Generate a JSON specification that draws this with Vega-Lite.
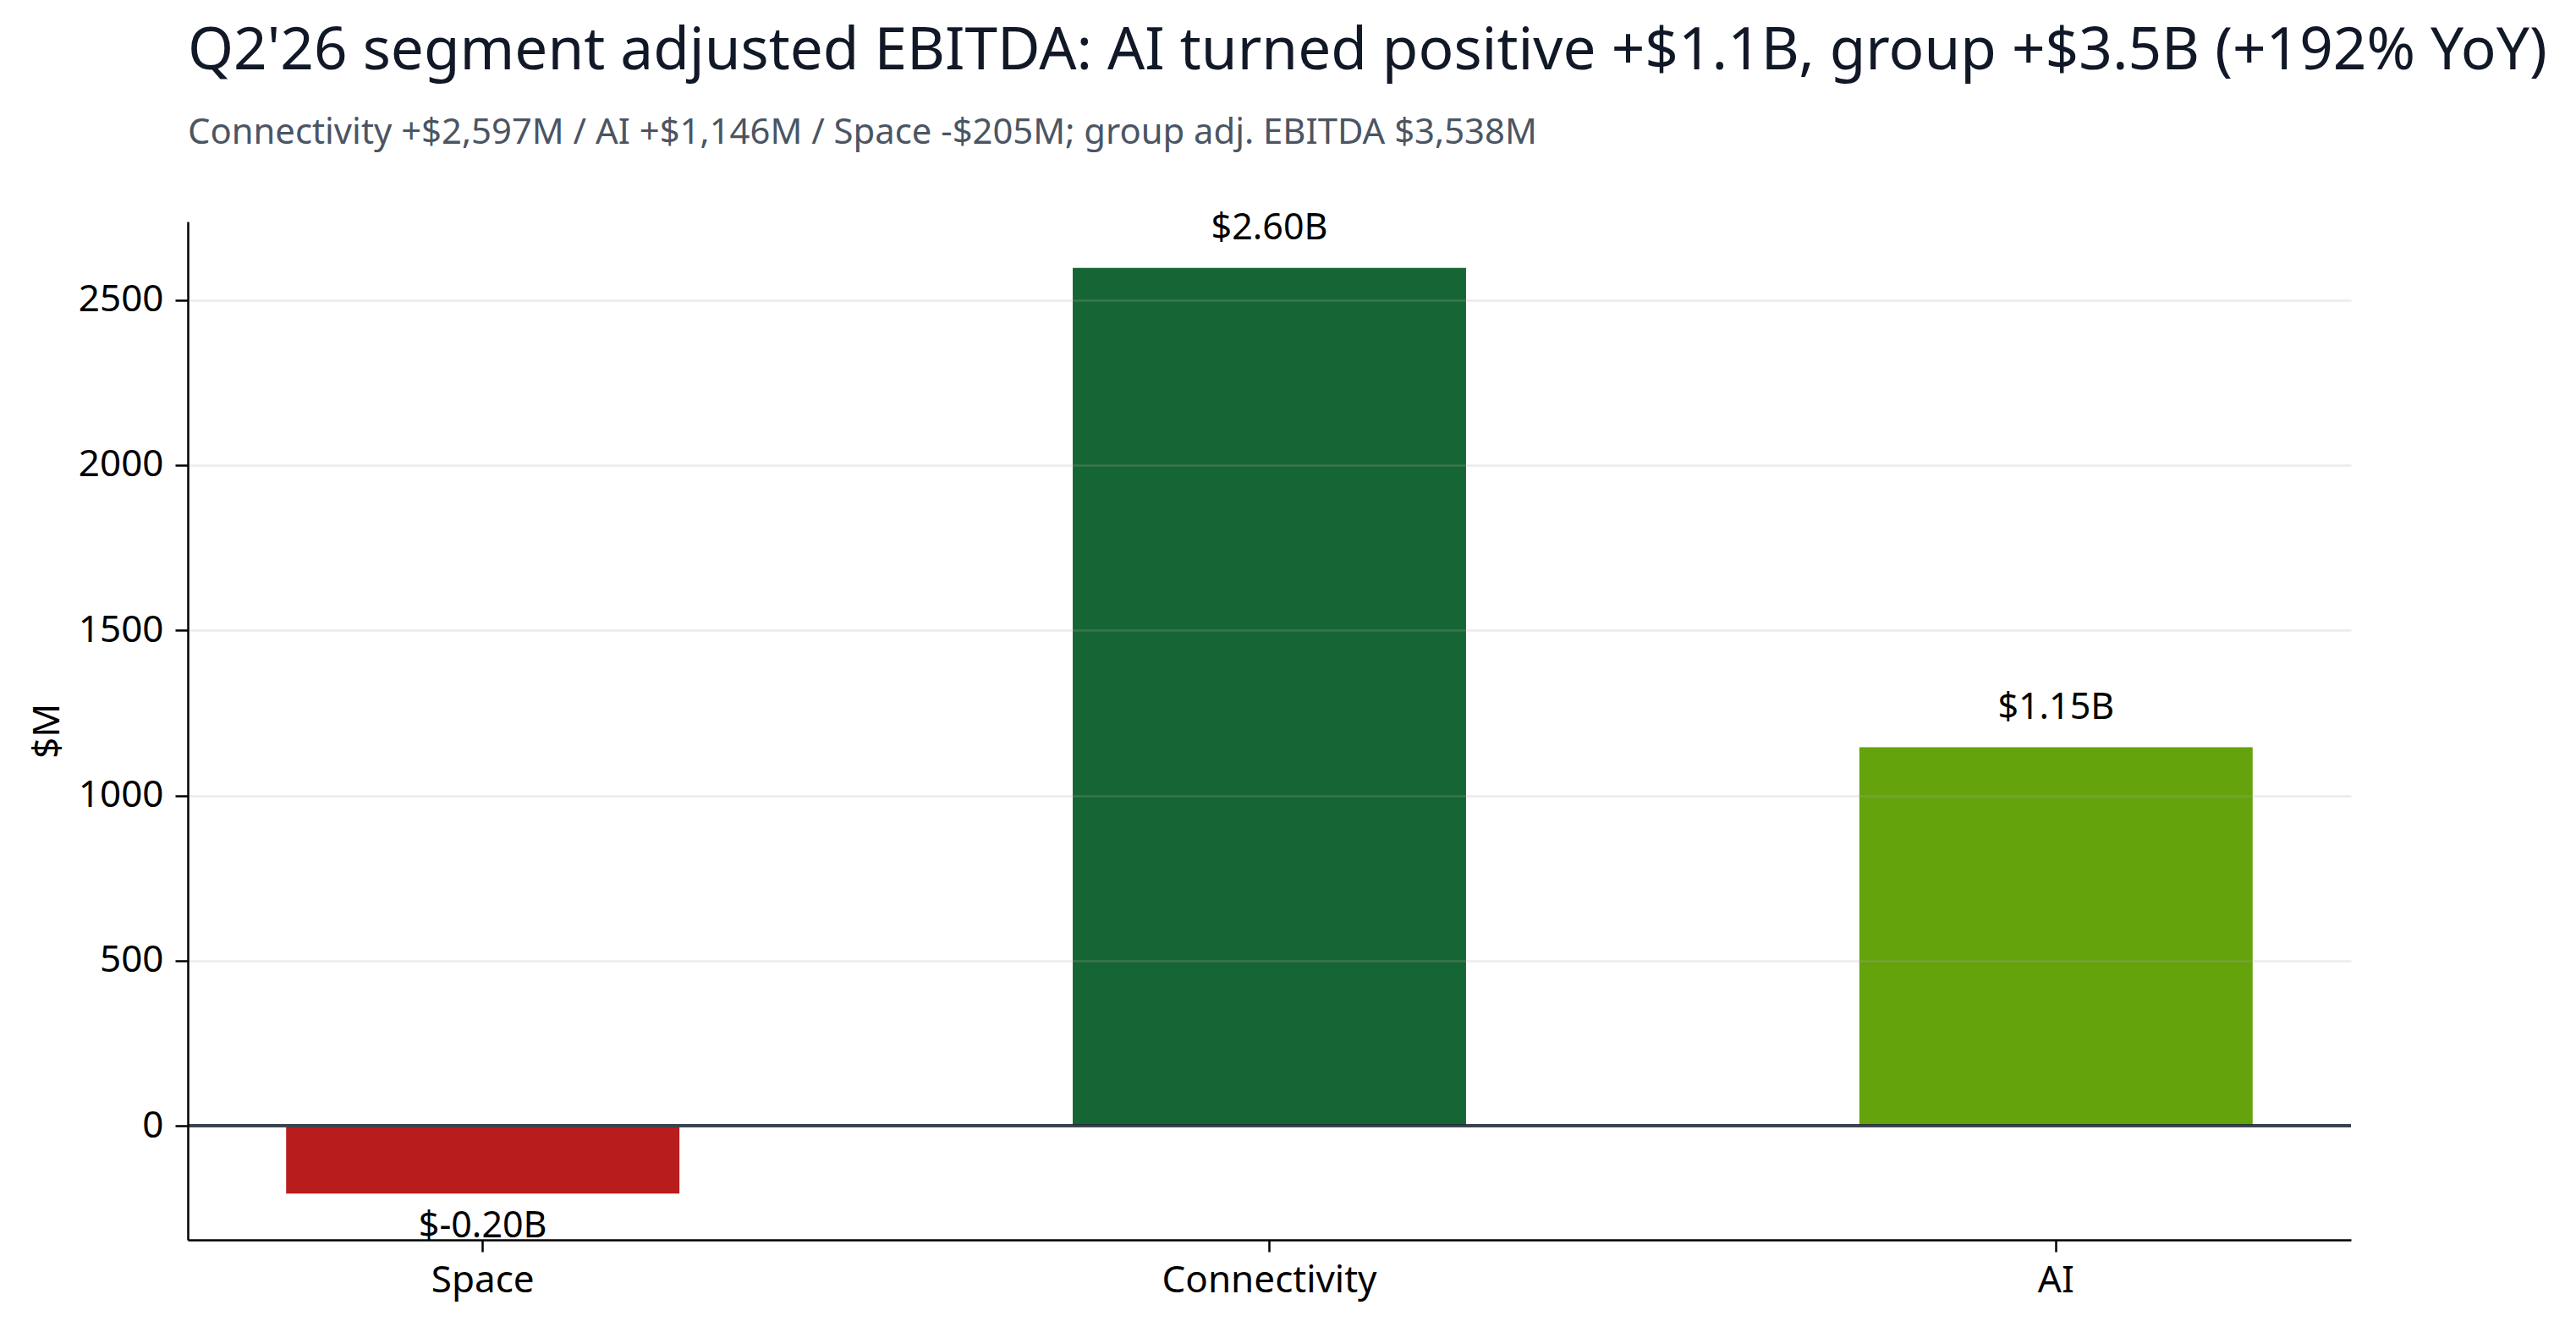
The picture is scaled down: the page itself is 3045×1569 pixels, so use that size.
{
  "$schema": "https://vega.github.io/schema/vega-lite/v6.json",
  "autosize": {"type": "none"},
  "padding": {"left": 222, "top": 262, "right": 266, "bottom": 103},
  "width": 2557,
  "height": 1204,
  "background": "white",
  "title": {
    "text": "Q2'26 segment adjusted EBITDA: AI turned positive +$1.1B, group +$3.5B (+192% YoY)",
    "subtitle": "Connectivity +$2,597M / AI +$1,146M / Space -$205M; group adj. EBITDA $3,538M",
    "anchor": "start",
    "frame": "group",
    "font": "Noto Sans",
    "fontSize": 69.3,
    "fontWeight": "normal",
    "color": "#111827",
    "subtitleFont": "Noto Sans",
    "subtitleFontSize": 41.8,
    "subtitleColor": "#4b5563",
    "subtitlePadding": 41,
    "offset": 70,
    "limit": 0
  },
  "data": {
    "values": [
      {"segment": "Space", "value": -205, "label": "$-0.20B"},
      {"segment": "Connectivity", "value": 2597, "label": "$2.60B"},
      {"segment": "AI", "value": 1146, "label": "$1.15B"}
    ]
  },
  "encoding": {
    "x": {
      "field": "segment",
      "type": "nominal",
      "sort": ["Space", "Connectivity", "AI"],
      "scale": {"paddingInner": 0.5, "paddingOuter": 0.125},
      "axis": {
        "title": null,
        "labelAngle": 0,
        "labelLimit": 0,
        "labelFont": "Noto Sans",
        "labelFontSize": 44,
        "labelColor": "black",
        "labelPadding": 12,
        "tickSize": 14,
        "tickWidth": 2.5,
        "tickColor": "black",
        "domainWidth": 2.5,
        "domainColor": "black",
        "grid": false
      }
    },
    "y": {
      "field": "value",
      "type": "quantitative",
      "scale": {"domain": [-345, 2737], "nice": false, "zero": false},
      "axis": {
        "title": "$M",
        "titleFont": "Noto Sans",
        "titleFontSize": 44,
        "titleFontWeight": "normal",
        "titleColor": "black",
        "titlePadding": 14,
        "values": [0, 500, 1000, 1500, 2000, 2500],
        "format": "d",
        "labelFont": "Noto Sans",
        "labelFontSize": 44,
        "labelColor": "black",
        "labelPadding": 14,
        "tickSize": 15,
        "tickWidth": 2.5,
        "tickColor": "black",
        "domainWidth": 2.5,
        "domainColor": "black",
        "grid": true,
        "gridColor": "#aaaaaa",
        "gridOpacity": 0.24,
        "gridWidth": 2.5,
        "zindex": 1
      }
    }
  },
  "layer": [
    {
      "mark": {"type": "bar"},
      "encoding": {
        "color": {
          "field": "segment",
          "type": "nominal",
          "scale": {
            "domain": ["Space", "Connectivity", "AI"],
            "range": ["#b91c1c", "#166534", "#65a30d"]
          },
          "legend": null
        }
      }
    },
    {
      "mark": {"type": "rule", "color": "#1f2937", "strokeWidth": 3.5},
      "encoding": {
        "y": {"datum": 0, "type": "quantitative"},
        "x": {"value": 0},
        "x2": {"value": 2557}
      }
    },
    {
      "transform": [{"filter": "datum.value >= 0"}],
      "mark": {"type": "text", "font": "Noto Sans", "fontSize": 43, "color": "black", "baseline": "alphabetic", "dy": -34},
      "encoding": {"text": {"field": "label"}}
    },
    {
      "transform": [{"filter": "datum.value < 0"}],
      "mark": {"type": "text", "font": "Noto Sans", "fontSize": 43, "color": "black", "baseline": "alphabetic", "dy": 52},
      "encoding": {"text": {"field": "label"}}
    }
  ],
  "config": {
    "view": {"stroke": null}
  }
}
